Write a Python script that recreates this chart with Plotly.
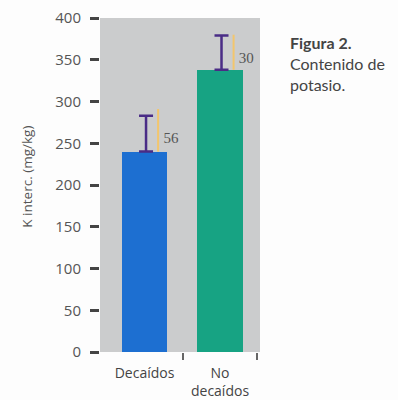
import plotly.graph_objects as go

# Potassium content per group
categories = ["Decaídos", "No<br>decaídos"]
k_values = [240, 338]          # mg/kg
err_upper = [43, 41]           # purple error bar length
orange_len = [51, 42]          # thin orange guide line length
value_labels = ["56", "30"]
bar_colors = ["#1d6fd1", "#17a383"]
y_ticks = [0, 50, 100, 150, 200, 250, 300, 350, 400]

xpos = list(range(len(categories)))

fig = go.Figure()

fig.add_trace(go.Bar(
    x=xpos, y=k_values, width=0.6,
    marker=dict(color=bar_colors, line=dict(width=0)),
    showlegend=False, hoverinfo="skip",
))

# thin orange line beside each error bar
fig.add_trace(go.Scatter(
    x=[p + 0.18 for p in xpos], y=k_values, mode="markers",
    marker=dict(size=0.1, color="rgba(0,0,0,0)"),
    error_y=dict(type="data", symmetric=False, array=orange_len,
                 arrayminus=[0] * len(xpos), color="#f3c66c",
                 thickness=2, width=0),
    showlegend=False, hoverinfo="skip",
))

# purple error bars
fig.add_trace(go.Scatter(
    x=[p + 0.02 for p in xpos], y=k_values, mode="markers",
    marker=dict(size=0.1, color="rgba(0,0,0,0)"),
    error_y=dict(type="data", symmetric=False, array=err_upper,
                 arrayminus=[0] * len(xpos), color="#4a2c86",
                 thickness=2.5, width=7),
    showlegend=False, hoverinfo="skip",
))

# value labels next to the error bars
fig.add_trace(go.Scatter(
    x=[p + 0.25 for p in xpos],
    y=[v + 0.3 * o for v, o in zip(k_values, orange_len)],
    mode="text", text=value_labels, textposition="middle right",
    textfont=dict(family="Liberation Serif", size=15, color="#555555"),
    showlegend=False, hoverinfo="skip",
))

fig.update_layout(
    width=398, height=400,
    margin=dict(l=100, r=138, t=18, b=48),
    paper_bgcolor="#fdfdfd",
    plot_bgcolor="#cbcccd",
    font=dict(family="Open Sans", size=15, color="#555555"),
    bargap=0,
)

fig.update_xaxes(
    range=[-0.59, 1.53],
    tickvals=xpos, ticktext=categories,
    ticks="outside", ticklen=8, tickcolor="rgba(0,0,0,0)",
    tickfont=dict(family="Open Sans", size=14, color="#444444"),
    minor=dict(tickvals=[0.51, 1.49], ticks="outside", ticklen=7,
               tickwidth=2, tickcolor="#666666"),
    showgrid=False, zeroline=False, showline=False, fixedrange=True,
    automargin=False,
)

fig.update_yaxes(
    range=[0, 400], tickvals=y_ticks,
    ticks="outside", ticklen=9, tickwidth=3, tickcolor="#444444",
    ticklabelstandoff=6,
    tickfont=dict(family="Open Sans", size=15, color="#555555"),
    showgrid=False, zeroline=False, showline=False, fixedrange=True,
    automargin=False,
)

fig.add_annotation(
    text="K interc. (mg/kg)", textangle=-90,
    xref="paper", yref="paper", x=0, y=0.525,
    xanchor="center", yanchor="middle", xshift=-73,
    showarrow=False,
    font=dict(family="Open Sans", size=13.5, color="#555555"),
)

fig.add_annotation(
    text="<b>Figura 2.</b><br>Contenido de<br>potasio.",
    xref="paper", yref="paper", x=1.175, y=0.96,
    xanchor="left", yanchor="top", align="left",
    showarrow=False,
    font=dict(family="Lato", size=16, color="#444444"),
)

fig.write_html("out.html")
